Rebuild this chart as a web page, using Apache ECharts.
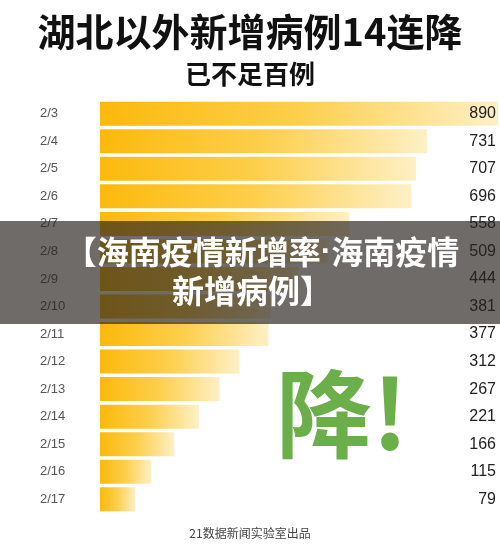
<!DOCTYPE html>
<html><head><meta charset="utf-8">
<script src="https://cdn.jsdelivr.net/npm/echarts@6/dist/echarts.min.js"></script>
<style>html,body{margin:0;padding:0;background:#fff;}#c{width:500px;height:547px;}</style>
</head><body><div id="c"></div>
<script>
const categories = ['2/3','2/4','2/5','2/6','2/7','2/8','2/9','2/10','2/11','2/12','2/13','2/14','2/15','2/16','2/17'];
const values = [890,731,707,696,558,509,444,381,377,312,267,221,166,115,79];
const titleText = '湖北以外新增病例14连降';
const subtitleText = '已不足百例';
const bannerLine1a = '【海南疫情新增率';
const bannerDot = '·';
const bannerLine1b = '海南疫情';
const bannerLine2 = '新增病例】';
const bigText = '降!';
const footerText = '21数据新闻实验室出品';

const chart = echarts.init(document.getElementById('c'));
const cjk = '"Noto Sans CJK SC", sans-serif';
const latin = '"Liberation Sans", Arial, sans-serif';
chart.setOption({
  backgroundColor: '#fff',
  animation: false,
  title: [
    {text: titleText, left: 'center', top: 8, textStyle: {fontFamily: cjk, fontSize: 38, fontWeight: 'bold', color: '#111'}},
    {text: subtitleText, left: 'center', top: 56, textStyle: {fontFamily: cjk, fontSize: 26, fontWeight: 'bold', color: '#111'}},
    {text: footerText, left: 'center', top: 522, textStyle: {fontFamily: cjk, fontSize: 12, fontWeight: 'normal', color: '#444'}}
  ],
  grid: {left: 100, right: 2, top: 100, bottom: 34},
  xAxis: {type: 'value', min: 0, max: 890, show: false},
  yAxis: [
    {type: 'category', data: categories, inverse: true,
     axisLine: {show: false}, axisTick: {show: false},
     axisLabel: {align: 'left', margin: 60, color: '#555', fontSize: 13, fontFamily: latin}},
    {type: 'category', data: values.map(String), inverse: true, position: 'right', z: 10,
     axisLine: {show: false}, axisTick: {show: false},
     axisLabel: {inside: true, margin: 2, color: '#222', fontSize: 16, fontFamily: latin}}
  ],
  series: [{
    type: 'bar', data: values, barWidth: 24,
    itemStyle: {color: new echarts.graphic.LinearGradient(0, 0, 1, 0, [
      {offset: 0, color: '#FCB90C'}, {offset: 0.5, color: '#FDCF4C'}, {offset: 1, color: '#FEF0C6'}])}
  }],
  graphic: [
    {type: 'rect', shape: {x: 0, y: 221, width: 500, height: 103}, style: {fill: 'rgba(40,35,30,0.67)'}, z: 100},
    {type: 'text', x: 262, y: 252, z: 101, style: {
      text: '{a|' + bannerLine1a + '}{d|' + bannerDot + '}{a|' + bannerLine1b + '}',
      textAlign: 'center', textVerticalAlign: 'middle',
      rich: {
        a: {fill: '#fff', color: '#fff', fontFamily: cjk, fontSize: 32, fontWeight: 'bold'},
        d: {fill: '#fff', color: '#fff', fontFamily: latin, fontSize: 32, fontWeight: 'bold'}
      }}},
    {type: 'text', x: 252, y: 291, z: 101, style: {text: bannerLine2, fill: '#fff', font: 'bold 32px ' + cjk, textAlign: 'center', textVerticalAlign: 'middle'}},
    {type: 'text', x: 342, y: 414, z: 50, style: {text: bigText, fill: '#6AAF4A', font: 'bold 96px ' + cjk, textAlign: 'center', textVerticalAlign: 'middle'}}
  ]
});
</script></body></html>
